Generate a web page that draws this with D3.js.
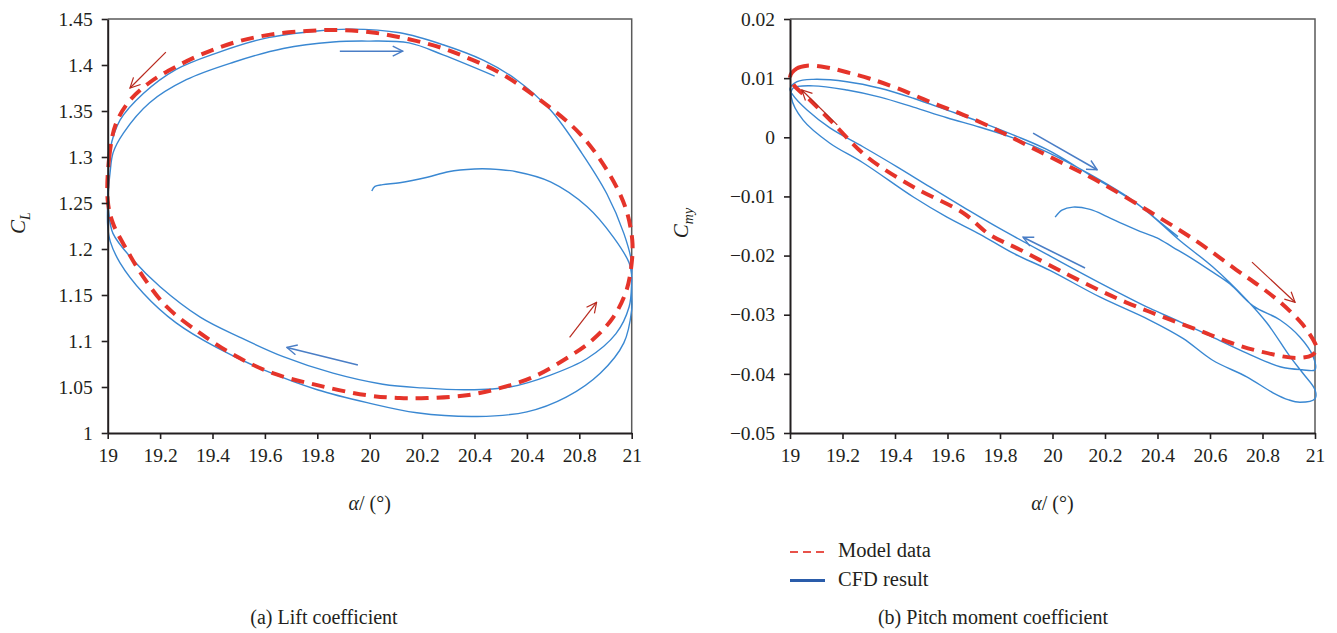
<!DOCTYPE html>
<html>
<head>
<meta charset="utf-8">
<script src="https://cdn.jsdelivr.net/npm/d3@7"></script>
<style>
  body { margin: 0; background: #fff; }
</style>
</head>
<body>
<svg id="chart" width="1337" height="633"></svg>
<script>
// ---- data ----
const alphaTicks = [19, 19.2, 19.4, 19.6, 19.8, 20, 20.2, 20.4, 20.6, 20.8, 21];
// the printed lift panel repeats "20.4" where 20.6 should be
const liftXLabels = ["19", "19.2", "19.4", "19.6", "19.8", "20", "20.2", "20.4", "20.4", "20.8", "21"];
const pitchXLabels = ["19", "19.2", "19.4", "19.6", "19.8", "20", "20.2", "20.4", "20.6", "20.8", "21"];
const liftYTicks = [1, 1.05, 1.1, 1.15, 1.2, 1.25, 1.3, 1.35, 1.4, 1.45];
const pitchYTicks = [-0.05, -0.04, -0.03, -0.02, -0.01, 0, 0.01, 0.02];

// model (closed loop), [alpha, CL]
const liftModel = [
  [19.0, 1.253], [19.006, 1.300], [19.03, 1.335], [19.08, 1.360], [19.16, 1.381], [19.26, 1.398], [19.37, 1.413],
  [19.49, 1.425], [19.62, 1.433], [19.76, 1.437], [19.89, 1.438], [20.02, 1.435], [20.15, 1.428],
  [20.27, 1.419], [20.38, 1.407], [20.50, 1.391], [20.65, 1.362], [20.80, 1.326], [20.905, 1.286],
  [20.975, 1.246], [21.002, 1.21], [21.0, 1.185], [20.98, 1.155], [20.93, 1.126], [20.85, 1.101],
  [20.75, 1.081], [20.625, 1.061], [20.50, 1.049], [20.37, 1.041], [20.22, 1.038], [20.115, 1.038],
  [19.99, 1.041], [19.80, 1.052], [19.63, 1.065], [19.48, 1.085], [19.35, 1.109], [19.226, 1.137],
  [19.135, 1.17], [19.073, 1.199], [19.02, 1.228]
];

// CFD (one continuous run), [alpha, CL]
const liftCFD = [
  [20.008, 1.263], [20.02, 1.268], [20.05, 1.270], [20.115, 1.272], [20.22, 1.278], [20.30, 1.284],
  [20.40, 1.287], [20.46, 1.287], [20.56, 1.284], [20.69, 1.273], [20.83, 1.246], [20.93, 1.213],
  [20.99, 1.185], [21.0, 1.172],
  [21.0, 1.163], [20.99, 1.137], [20.94, 1.108], [20.83, 1.081], [20.69, 1.063], [20.535, 1.05],
  [20.37, 1.047], [20.2, 1.049], [20.05, 1.053], [19.86, 1.065], [19.67, 1.083], [19.505, 1.104],
  [19.353, 1.126], [19.2, 1.159], [19.097, 1.188], [19.02, 1.217], [19.003, 1.242],
  [19.0, 1.255], [19.002, 1.28], [19.009, 1.308], [19.047, 1.34], [19.136, 1.369], [19.26, 1.395],
  [19.415, 1.413], [19.6, 1.429], [19.8, 1.437], [19.925, 1.439], [20.115, 1.435], [20.28, 1.422],
  [20.435, 1.405], [20.56, 1.384], [20.69, 1.351], [20.81, 1.304], [20.905, 1.26], [20.97, 1.217],
  [21.0, 1.185], [21.0, 1.17],
  [21.0, 1.15], [21.0, 1.134], [20.97, 1.098], [20.88, 1.065], [20.75, 1.039], [20.60, 1.023],
  [20.41, 1.018], [20.18, 1.022], [19.99, 1.033], [19.80, 1.047], [19.6, 1.068], [19.415, 1.093],
  [19.26, 1.12], [19.136, 1.152], [19.047, 1.185], [19.01, 1.208], [19.0, 1.225], [19.0, 1.25],
  [19.003, 1.265], [19.009, 1.283], [19.021, 1.305], [19.06, 1.326], [19.16, 1.359], [19.30, 1.384],
  [19.48, 1.403], [19.67, 1.418], [19.86, 1.425], [19.99, 1.426], [20.15, 1.424], [20.28, 1.411],
  [20.477, 1.388]
];

// model (closed loop), [alpha, Cmy]
const pitchModel = [
  [19.0, 0.0102], [19.025, 0.0116], [19.065, 0.0121], [19.14, 0.0118], [19.217, 0.0110], [19.305, 0.0099],
  [19.408, 0.0083], [19.533, 0.0060], [19.66, 0.0038], [19.79, 0.0012], [19.914, -0.0016], [20.04, -0.0044],
  [20.18, -0.0076], [20.371, -0.0126], [20.55, -0.0176], [20.70, -0.0224], [20.79, -0.0252], [20.87, -0.0280],
  [20.95, -0.0315], [21.0, -0.0348], [21.007, -0.0358], [20.99, -0.0368], [20.93, -0.0373], [20.79, -0.0362],
  [20.676, -0.0347], [20.573, -0.0329], [20.47, -0.0312], [20.37, -0.0295], [20.28, -0.0279], [20.18, -0.0259],
  [20.04, -0.0228], [19.876, -0.0190], [19.762, -0.0165], [19.66, -0.0128], [19.47, -0.0084], [19.293, -0.0033],
  [19.164, 0.0024], [19.076, 0.0063], [19.015, 0.0088]
];

// CFD (one continuous run), [alpha, Cmy]
const pitchCFD = [
  [20.01, -0.0135], [20.036, -0.0123], [20.078, -0.0118], [20.143, -0.0122], [20.208, -0.0134], [20.27, -0.0147],
  [20.333, -0.0159], [20.398, -0.0170], [20.459, -0.0186], [20.524, -0.0203], [20.6, -0.0225], [20.676, -0.0248],
  [20.764, -0.0285], [20.867, -0.0309], [20.943, -0.0338], [20.992, -0.0370], [21.0, -0.0393],
  [20.95, -0.0393], [20.867, -0.0388], [20.74, -0.0365], [20.61, -0.0338], [20.486, -0.0312], [20.37, -0.0289],
  [20.18, -0.0246], [20.0, -0.0203], [19.79, -0.0152], [19.66, -0.0118], [19.533, -0.0084], [19.408, -0.0050],
  [19.278, -0.0016], [19.152, 0.0016], [19.065, 0.0046], [19.01, 0.0072], [19.0, 0.0082],
  [19.027, 0.0094], [19.088, 0.0098], [19.217, 0.0094], [19.343, 0.0083], [19.47, 0.0066], [19.598, 0.0046],
  [19.724, 0.0026], [19.85, 0.0004], [19.98, -0.0021], [20.143, -0.0064], [20.333, -0.0116], [20.486, -0.0175],
  [20.61, -0.0219], [20.74, -0.0275], [20.817, -0.0314], [20.905, -0.0371], [20.954, -0.0399], [21.0, -0.0427],
  [21.0, -0.0442], [20.943, -0.0448], [20.90, -0.0444], [20.84, -0.0432], [20.74, -0.0405], [20.61, -0.0377],
  [20.497, -0.0340], [20.37, -0.0309], [20.18, -0.0270], [19.99, -0.0225], [19.85, -0.0196], [19.724, -0.0164],
  [19.598, -0.0135], [19.47, -0.0101], [19.278, -0.0043], [19.152, -0.0010], [19.05, 0.0029], [19.005, 0.0068],
  [19.011, 0.0083], [19.088, 0.0087], [19.217, 0.0080], [19.343, 0.0068], [19.47, 0.0051], [19.598, 0.0033],
  [19.724, 0.0017], [19.85, -0.0001], [19.98, -0.0025], [20.14, -0.0062], [20.30, -0.0105], [20.40, -0.0140],
  [20.478, -0.0168]
];

// direction arrows, [from, to] in data units
const liftArrows = [
  { kind: "model", from: [19.222, 1.414], to: [19.085, 1.375] },
  { kind: "model", from: [20.763, 1.104], to: [20.866, 1.142] },
  { kind: "cfd",   from: [19.886, 1.415], to: [20.126, 1.415] },
  { kind: "cfd",   from: [19.955, 1.074], to: [19.684, 1.093] }
];
const pitchArrows = [
  { kind: "model", from: [19.18, 0.0021], to: [19.045, 0.0080] },
  { kind: "model", from: [20.76, -0.0211], to: [20.924, -0.0279] },
  { kind: "cfd",   from: [19.926, 0.0007], to: [20.17, -0.0055] },
  { kind: "cfd",   from: [20.124, -0.0221], to: [19.888, -0.0169] }
];

// ---- drawing ----
const FONT = "'Liberation Serif', 'Times New Roman', serif";
const svg = d3.select("#chart").attr("font-family", FONT);
svg.append("rect").attr("width", 1337).attr("height", 633).attr("fill", "#fff");

const colors = {
  model: "#e5342a",
  cfd: "#3a88d2",
  modelArrow: "#b8291e",
  cfdArrow: "#4a7ec6",
  axis: "#231f20",
  frame: "#5a5a5a"
};

const defs = svg.append("defs");
[["model", colors.modelArrow, 1.2], ["cfd", colors.cfdArrow, 1.4]].forEach(([k, c, w]) => {
  defs.append("marker")
    .attr("id", "head-" + k)
    .attr("viewBox", "-1 -1 12 12")
    .attr("refX", 10).attr("refY", 5)
    .attr("markerWidth", 12).attr("markerHeight", 12)
    .attr("markerUnits", "userSpaceOnUse")
    .attr("orient", "auto")
    .append("path")
    .attr("d", "M0,0 L10,5 L0,10")
    .attr("fill", "none")
    .attr("stroke", c)
    .attr("stroke-width", w);
});

function drawPanel(p) {
  const x = d3.scaleLinear().domain([19, 21]).range([p.left, p.right]);
  const y = d3.scaleLinear().domain(p.yDomain).range([433, 19]);
  const g = svg.append("g");

  // thin top and right border
  g.append("path")
    .attr("d", `M${x(19)},${y(p.yDomain[1])}H${x(21)}V${y(p.yDomain[0])}`)
    .attr("fill", "none")
    .attr("stroke", colors.frame)
    .attr("stroke-width", 1.5);

  const lineGen = d3.line()
    .x(d => x(d[0]))
    .y(d => y(d[1]));

  // CFD result
  g.append("path")
    .datum(p.cfd)
    .attr("d", lineGen.curve(d3.curveCatmullRom.alpha(0.5)))
    .attr("fill", "none")
    .attr("stroke", colors.cfd)
    .attr("stroke-width", 1.4);

  // model data
  g.append("path")
    .datum(p.model)
    .attr("d", lineGen.curve(d3.curveCatmullRomClosed.alpha(0.5)))
    .attr("fill", "none")
    .attr("stroke", colors.model)
    .attr("stroke-width", 4)
    .attr("stroke-dasharray", "13,8");

  // arrows
  g.selectAll(".arrow")
    .data(p.arrows)
    .join("line")
    .attr("class", "arrow")
    .attr("x1", d => x(d.from[0])).attr("y1", d => y(d.from[1]))
    .attr("x2", d => x(d.to[0])).attr("y2", d => y(d.to[1]))
    .attr("stroke", d => d.kind === "model" ? colors.modelArrow : colors.cfdArrow)
    .attr("stroke-width", d => d.kind === "model" ? 1.2 : 1.6)
    .attr("marker-end", d => `url(#head-${d.kind})`);

  // axes
  const gx = g.append("g")
    .attr("transform", `translate(0,${y(p.yDomain[0])})`)
    .call(d3.axisBottom(x)
      .tickValues(alphaTicks)
      .tickFormat((d, i) => p.xLabels[i])
      .tickSize(6).tickSizeOuter(0).tickPadding(9));
  const gy = g.append("g")
    .attr("transform", `translate(${x(19)},0)`)
    .call(d3.axisLeft(y)
      .tickValues(p.yTicks)
      .tickFormat(p.yFormat)
      .tickSize(6).tickSizeOuter(0).tickPadding(9));
  [gx, gy].forEach(a => {
    a.attr("font-family", FONT).attr("font-size", 19.5);
    a.select(".domain").attr("stroke", colors.axis).attr("stroke-width", 2);
    a.selectAll(".tick line").attr("stroke", colors.axis).attr("stroke-width", 1.6);
    a.selectAll(".tick text").attr("fill", colors.axis);
  });

  // axis titles
  const yt = g.append("text")
    .attr("transform", `translate(${p.yTitleX},${(y.range()[0] + y.range()[1]) / 2 - 3}) rotate(-90)`)
    .attr("text-anchor", "middle")
    .attr("fill", colors.axis)
    .attr("font-size", 21);
  yt.append("tspan").attr("font-style", "italic").text("C");
  yt.append("tspan").attr("font-style", "italic").attr("dy", 5).attr("font-size", 14).text(p.ySub);

  const xt = g.append("text")
    .attr("x", (x.range()[0] + x.range()[1]) / 2)
    .attr("y", 510)
    .attr("text-anchor", "middle")
    .attr("fill", colors.axis)
    .attr("font-size", 20);
  xt.append("tspan").attr("font-style", "italic").text("α");
  xt.append("tspan").text("/ (°)");

  // caption
  g.append("text")
    .attr("x", p.captionX)
    .attr("y", 624)
    .attr("text-anchor", "middle")
    .attr("fill", colors.axis)
    .attr("font-size", 20)
    .text(p.caption);

  return { x, y };
}

drawPanel({
  left: 107.7, right: 631.7,
  yDomain: [1, 1.45], yTicks: liftYTicks, yFormat: d3.format("~g"),
  xLabels: liftXLabels,
  model: liftModel, cfd: liftCFD, arrows: liftArrows,
  ySub: "L", yTitleX: 25,
  caption: "(a) Lift coefficient", captionX: 324
});

drawPanel({
  left: 790, right: 1315,
  yDomain: [-0.05, 0.02], yTicks: pitchYTicks, yFormat: d3.format("~g"),
  xLabels: pitchXLabels,
  model: pitchModel, cfd: pitchCFD, arrows: pitchArrows,
  ySub: "my", yTitleX: 688,
  caption: "(b) Pitch moment coefficient", captionX: 993
});

// legend
const legendItems = [
  { label: "Model data", color: "#e8524a", dash: "8,5", width: 2 },
  { label: "CFD result", color: "#2a5caa", dash: null, width: 3 }
];
const legend = svg.append("g").attr("transform", "translate(790,552)");
const rows = legend.selectAll("g").data(legendItems).join("g")
  .attr("transform", (d, i) => `translate(0,${i * 28.5})`);
rows.append("line")
  .attr("x1", 0).attr("x2", 35)
  .attr("stroke", d => d.color)
  .attr("stroke-width", d => d.width)
  .attr("stroke-dasharray", d => d.dash);
rows.append("text")
  .attr("x", 48).attr("y", 5)
  .attr("fill", colors.axis)
  .attr("font-size", 20.5)
  .text(d => d.label);
</script>
</body>
</html>
